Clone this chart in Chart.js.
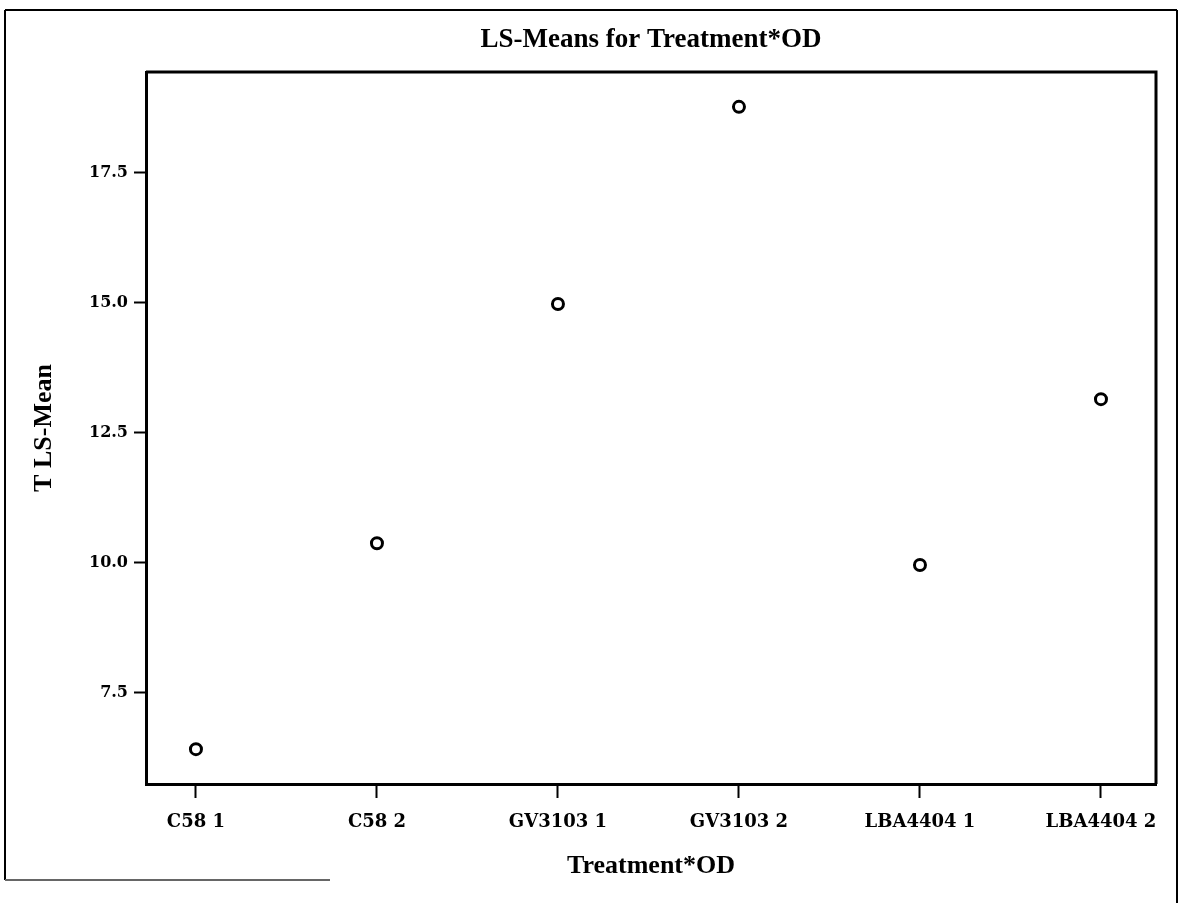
<!DOCTYPE html>
<html>
<head>
<meta charset="utf-8">
<style>
  html, body { margin: 0; padding: 0; background: #fff; }
  #wrap { width: 1184px; height: 903px; position: relative; }
  canvas { display: block; }
</style>
<script src="https://cdn.jsdelivr.net/npm/chart.js@4/dist/chart.umd.min.js"></script>
</head>
<body>
<div id="wrap"><canvas id="c" width="1184" height="903"></canvas></div>
<script>
const categories = ["C58 1", "C58 2", "GV3103 1", "GV3103 2", "LBA4404 1", "LBA4404 2"];
const lsMeans = [6.42, 10.38, 14.98, 18.77, 9.96, 13.15];
const yTicks = [7.5, 10.0, 12.5, 15.0, 17.5];

const FONT = "'Liberation Serif', 'DejaVu Serif', serif";
const TICKFONT = "'DejaVu Serif', 'Liberation Serif', serif";

const framePlugin = {
  id: 'frame',
  beforeDraw(chart) {
    const ctx = chart.ctx;
    ctx.save();
    ctx.strokeStyle = '#000';
    ctx.lineWidth = 2;
    ctx.beginPath();
    ctx.moveTo(5, 10); ctx.lineTo(1177, 10);
    ctx.moveTo(5, 10); ctx.lineTo(5, 880);
    ctx.moveTo(1177, 10); ctx.lineTo(1177, 903);
    ctx.stroke();
    ctx.strokeStyle = '#666';
    ctx.beginPath();
    ctx.moveTo(5, 880); ctx.lineTo(330, 880);
    ctx.stroke();
    ctx.restore();
  },
  afterDatasetsDraw(chart) {
    const {ctx, chartArea: a} = chart;
    ctx.save();
    ctx.strokeStyle = '#000';
    ctx.lineWidth = 3;
    ctx.beginPath();
    ctx.moveTo(a.left, a.top); ctx.lineTo(a.right, a.top); ctx.lineTo(a.right, a.bottom);
    ctx.stroke();
    ctx.restore();
  }
};

new Chart(document.getElementById('c'), {
  type: 'scatter',
  data: {
    datasets: [{
      data: lsMeans.map((v, i) => ({x: i, y: v})),
      pointStyle: 'circle',
      pointRadius: 5.5,
      pointBorderWidth: 3,
      pointBorderColor: '#000',
      pointBackgroundColor: '#fff',
      showLine: false
    }]
  },
  options: {
    responsive: false,
    animation: false,
    layout: { padding: { left: 0, right: 28, top: 0, bottom: 0 } },
    plugins: {
      legend: { display: false },
      tooltip: { enabled: false },
      title: {
        display: true,
        text: 'LS-Means for Treatment*OD',
        fullSize: false,
        color: '#000',
        font: { family: FONT, size: 27, weight: 'bold', lineHeight: 1.2 },
        padding: { top: 24, bottom: 15.6 }
      }
    },
    scales: {
      x: {
        type: 'linear',
        min: -0.276,
        max: 5.304,
        afterFit(s) { s.height = 119; },
        afterBuildTicks(s) { s.ticks = categories.map((c, i) => ({value: i})); },
        ticks: {
          callback: (v) => categories[v],
          color: '#000',
          font: { family: TICKFONT, size: 18, weight: 'bold' },
          padding: 14,
          maxRotation: 0,
          autoSkip: false
        },
        grid: { display: true, drawOnChartArea: false, drawTicks: true, tickLength: 14, tickColor: '#000', tickWidth: 2 },
        border: { display: true, color: '#000', width: 3 },
        title: {
          display: true,
          text: 'Treatment*OD',
          color: '#000',
          font: { family: FONT, size: 26, weight: 'bold', lineHeight: 1.2 },
          padding: { top: 0, bottom: 21 }
        }
      },
      y: {
        type: 'linear',
        min: 5.75,
        max: 19.44,
        afterFit(s) { s.width = 146; },
        afterBuildTicks(s) { s.ticks = yTicks.map(v => ({value: v})); },
        ticks: {
          callback: (v) => Number(v).toFixed(1),
          color: '#000',
          font: { family: TICKFONT, size: 16, weight: 'bold' },
          padding: 6
        },
        grid: { display: true, drawOnChartArea: false, drawTicks: true, tickLength: 12, tickColor: '#000', tickWidth: 2 },
        border: { display: true, color: '#000', width: 3 },
        title: {
          display: true,
          text: 'T LS-Mean',
          color: '#000',
          font: { family: FONT, size: 26, weight: 'bold', lineHeight: 1.2 },
          padding: { top: 29, bottom: 0 }
        }
      }
    }
  },
  plugins: [framePlugin]
});
</script>
</body>
</html>
